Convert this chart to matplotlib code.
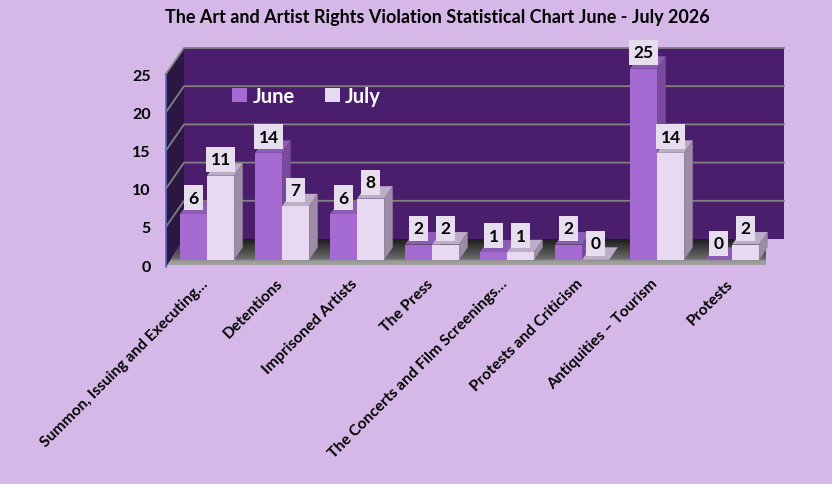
import numpy as np
import matplotlib.pyplot as plt
from matplotlib.patches import Polygon, Patch
from matplotlib.colors import LinearSegmentedColormap
import matplotlib.transforms as mtransforms

plt.rcParams['font.family'] = ['Lato', 'DejaVu Sans']
plt.rcParams['font.weight'] = 'bold'

# data
categories = ["Summon, Issuing and Executing\u2026", "Detentions", "Imprisoned Artists",
              "The Press", "The Concerts and Film Screenings\u2026", "Protests and Criticism",
              "Antiquities \u2013 Tourism", "Protests"]
june = [6, 14, 6, 2, 1, 2, 25, 0]
july = [11, 7, 8, 2, 1, 0, 14, 2]
yticks = [0, 5, 10, 15, 20, 25]
title = "The Art and Artist Rights Violation Statistical Chart June - July 2026"

bg = '#D5B8E8'
june_c = ('#A66BD3', '#7A4A9C', '#8D5CB5')   # front, side, top
july_c = ('#E8D9F2', '#9C8CA6', '#BCAEC6')

fig = plt.figure(figsize=(8.32, 4.85), dpi=100)
fig.patch.set_facecolor(bg)
ax = fig.add_axes([166 / 832, 1 - 266 / 485, 600 / 832, 191 / 485])
ax.set_xlim(-0.5, 7.5)
ax.set_ylim(0, 25)
ax.patch.set_visible(False)
for s in ax.spines.values():
    s.set_visible(False)

# depth of the 3d box in data units
DX = 18 / 75
DY = 26 / (191 / 25)
x0, x1 = -0.5, 7.5
top = 25

# back wall, left wall
ax.add_patch(Polygon([(x0 + DX, DY), (x1 + DX, DY), (x1 + DX, top + DY), (x0 + DX, top + DY)],
                     closed=True, fc='#4A1E6C', ec='none', clip_on=False, zorder=1))
ax.add_patch(Polygon([(x0, -0.3), (x0 + DX, DY), (x0 + DX, top + DY), (x0, top)],
                     closed=True, fc='#2C1642', ec='none', clip_on=False, zorder=1))
ax.plot([x0, x0], [-0.3, top], color='#4F6CC0', lw=1.2, clip_on=False, zorder=1.5)

# gridlines
for t in yticks[1:]:
    ax.plot([x0, x0 + DX, x1 + DX], [t, t + DY, t + DY], color='#808080', lw=1.3,
            clip_on=False, zorder=1.2)

# floor with gradient
floor = Polygon([(x0, -0.3), (x1, -0.3), (x1 + DX, DY), (x0 + DX, DY)], closed=True,
                fc='none', ec='none', clip_on=False)
ax.add_patch(floor)
cmap = LinearSegmentedColormap.from_list('floor', [(0, '#A8A8A8'), (0.22, '#9A9A9A'),
                                                   (0.3, '#6A6A6A'), (1, '#1C1C1C')])
grad = np.linspace(0, 1, 100).reshape(-1, 1)
im = ax.imshow(grad, extent=(x0, x1 + DX, -0.3, DY), origin='lower', cmap=cmap,
               aspect='auto', zorder=1.1, clip_on=True)
im.set_clip_path(floor)
ax.set_xlim(-0.5, 7.5)
ax.set_ylim(0, 25)

# bars
w = 0.36
d0, bd = 0.2, 0.48
x = np.arange(len(categories))
for vals, cols, off in [(june, june_c, -w), (july, july_c, 0)]:
    lefts = x + off + d0 * DX
    base = d0 * DY
    for xl, v in zip(lefts, vals):
        ax.add_patch(Polygon([(xl, base + v), (xl + w, base + v),
                              (xl + w + bd * DX, base + v + bd * DY), (xl + bd * DX, base + v + bd * DY)],
                             closed=True, fc=cols[2], ec='none', clip_on=False, zorder=2))
        ax.add_patch(Polygon([(xl + w, base), (xl + w, base + v),
                              (xl + w + bd * DX, base + v + bd * DY), (xl + w + bd * DX, base + bd * DY)],
                             closed=True, fc=cols[1], ec='none', clip_on=False, zorder=2))
    ax.bar(lefts, vals, width=w, bottom=base, align='edge', color=cols[0], zorder=3, clip_on=False)
    for xl, v in zip(lefts, vals):
        ax.annotate(str(v), (xl + w / 2, base + v), xytext=(0, 6), textcoords='offset points',
                    ha='center', va='bottom', fontsize=12.5, fontweight='bold', color='black',
                    bbox=dict(boxstyle='square,pad=0.25', fc='#E6DDEE', ec='none'), zorder=5,
                    annotation_clip=False)

# axes text
ax.set_yticks(yticks)
ax.set_yticklabels([str(t) for t in yticks], fontsize=11.5, fontweight='bold')
ax.tick_params(axis='y', length=0, pad=11)
ax.set_xticks([])
offset = mtransforms.ScaledTranslation(2 / 100, -16 / 100, fig.dpi_scale_trans)
for i, c in enumerate(categories):
    ax.text(i, 0, c, rotation=45, ha='right', va='center', rotation_mode='anchor',
            fontsize=11.2, fontweight='bold', transform=ax.transData + offset, clip_on=False)

# legend
handles = [Patch(fc=june_c[0], ec='none', label='June'), Patch(fc=july_c[0], ec='none', label='July')]
leg = fig.legend(handles=handles, loc='upper left', bbox_to_anchor=(214 / 832, 1 - 69 / 485),
                 ncol=2, frameon=False, handlelength=0.75, handleheight=0.75, handletextpad=0.25,
                 columnspacing=1.5, prop={'size': 14.5, 'weight': 'bold'})
for t in leg.get_texts():
    t.set_color('white')

fig.text(437 / 832, 1 - 17 / 485, title, ha='center', va='center', fontsize=13, fontweight='bold')

fig.savefig('out.png', dpi=100, facecolor=bg)
